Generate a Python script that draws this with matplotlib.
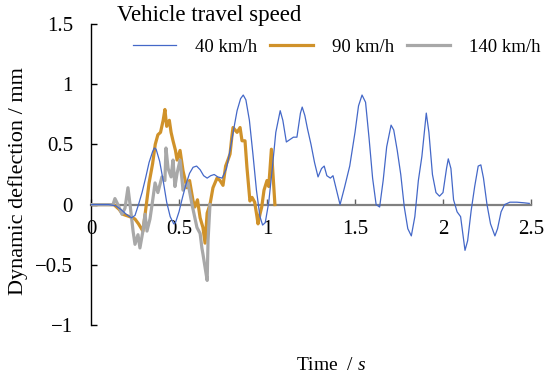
import matplotlib
matplotlib.use("Agg")
import matplotlib.pyplot as plt
import numpy as np

plt.rcParams['font.family'] = ['Liberation Serif', 'DejaVu Serif']
plt.rcParams['mathtext.fontset'] = 'custom'
plt.rcParams['mathtext.rm'] = 'Liberation Serif'
plt.rcParams['mathtext.it'] = 'Liberation Serif:italic'

# 40 km/h
t40 = [0, 0.10, 0.14, 0.17, 0.20, 0.23, 0.25, 0.27, 0.29, 0.31, 0.33, 0.35, 0.36, 0.37,
       0.39, 0.41, 0.43, 0.45, 0.47, 0.48, 0.50, 0.52, 0.54, 0.56, 0.58, 0.60, 0.62,
       0.64, 0.66, 0.68, 0.70, 0.72, 0.745, 0.77, 0.79, 0.81, 0.83, 0.85, 0.865, 0.88,
       0.90, 0.92, 0.94, 0.96, 0.975, 0.99, 1.01, 1.03, 1.05, 1.075, 1.09, 1.11, 1.13,
       1.15, 1.17, 1.19, 1.20, 1.215, 1.23, 1.25, 1.27, 1.29, 1.31, 1.325, 1.34, 1.36,
       1.375, 1.39, 1.415, 1.44, 1.47, 1.50, 1.52, 1.54, 1.56, 1.58, 1.60, 1.62, 1.64,
       1.66, 1.68, 1.705, 1.72, 1.74, 1.76, 1.78, 1.80, 1.82, 1.84, 1.86, 1.88, 1.905,
       1.92, 1.94, 1.96, 1.98, 2.0, 2.02, 2.03, 2.045, 2.06, 2.08, 2.10, 2.125, 2.14,
       2.16, 2.18, 2.20, 2.215, 2.23, 2.25, 2.27, 2.295, 2.31, 2.33, 2.35, 2.38, 2.42,
       2.46, 2.49]
y40 = [0, 0, -0.01, -0.04, -0.08, -0.11, -0.09, 0.0, 0.1, 0.22, 0.35, 0.44, 0.47, 0.46,
       0.36, 0.2, 0.02, -0.1, -0.16, -0.15, -0.06, 0.06, 0.17, 0.26, 0.31, 0.32, 0.29,
       0.24, 0.22, 0.24, 0.25, 0.23, 0.22, 0.3, 0.45, 0.62, 0.78, 0.88, 0.91, 0.87,
       0.7, 0.42, 0.12, -0.1, -0.17, -0.15, 0.02, 0.3, 0.6, 0.78, 0.7, 0.52, 0.54,
       0.56, 0.56, 0.76, 0.81, 0.74, 0.63, 0.5, 0.35, 0.23, 0.3, 0.32, 0.24, 0.22,
       0.24, 0.15, 0.0, 0.14, 0.32, 0.6, 0.82, 0.91, 0.85, 0.55, 0.22, 0.0, -0.02,
       0.2, 0.48, 0.66, 0.62, 0.45, 0.25, -0.02, -0.2, -0.26, -0.1, 0.2, 0.4, 0.76,
       0.6, 0.25, 0.1, 0.07, 0.1, 0.3, 0.38, 0.3, 0.04, -0.06, -0.1, -0.38, -0.3,
       -0.05, 0.15, 0.32, 0.33, 0.22, 0.0, -0.16, -0.26, -0.2, -0.06, 0.0, 0.02, 0.02,
       0.015, 0.01]

# 90 km/h
t90 = [0, 0.13, 0.16, 0.18, 0.22, 0.25, 0.27, 0.295, 0.31, 0.33, 0.35, 0.365, 0.38,
       0.395, 0.41, 0.42, 0.43, 0.445, 0.455, 0.466, 0.48, 0.489, 0.506, 0.523, 0.545,
       0.56, 0.58, 0.59, 0.605, 0.62, 0.636, 0.648, 0.66, 0.676, 0.693, 0.716, 0.733,
       0.75, 0.765, 0.778, 0.79, 0.80, 0.807, 0.83, 0.847, 0.858, 0.875, 0.886, 0.903,
       0.915, 0.93, 0.943, 0.949, 0.96, 0.97, 0.983, 1.0, 1.01, 1.025, 1.045]
y90 = [0, 0, -0.04, -0.08, -0.1, -0.12, -0.16, -0.22, -0.05, 0.18, 0.34, 0.5, 0.58,
       0.6, 0.7, 0.79, 0.65, 0.7, 0.6, 0.53, 0.45, 0.37, 0.45, 0.28, 0.14,
       0.2, 0.03, -0.02, 0.04, -0.11, -0.19, -0.32, -0.07, 0.0, 0.14, 0.22, 0.2,
       0.16, 0.32, 0.37, 0.42, 0.56, 0.64, 0.6, 0.64, 0.53, 0.53, 0.31, 0.03,
       0.06, 0.02, -0.1, -0.16, -0.08, -0.02, 0.12, 0.2, 0.15, 0.46, 0.0]

# 140 km/h
t140 = [0, 0.125, 0.136, 0.153, 0.176, 0.193, 0.21, 0.222, 0.239, 0.25, 0.267, 0.278,
        0.295, 0.307, 0.318, 0.335, 0.347, 0.364, 0.38, 0.403, 0.42, 0.426, 0.438,
        0.455, 0.466, 0.477, 0.489, 0.506, 0.523, 0.534, 0.551, 0.574, 0.602, 0.62,
        0.63, 0.636, 0.648, 0.66, 0.665, 0.676]
y140 = [0, 0, 0.05, 0.0, -0.08, -0.03, 0.14, 0.0, -0.22, -0.33, -0.25, -0.36,
        -0.22, -0.08, -0.22, -0.12, 0.0, 0.18, 0.1, 0.23, 0.2, 0.47, 0.3,
        0.23, 0.37, 0.15, 0.26, 0.37, 0.12, 0.15, 0.18, 0.0, -0.19, -0.24,
        -0.36, -0.41, -0.52, -0.63, -0.3, 0.0]

fig = plt.figure(figsize=(5.5, 3.81), dpi=100)
ax = fig.add_axes([91/550, 1-325/381, 440/550, 301/381])

ax.plot(t90, y90, color='#D0922A', lw=2.3, label='90 km/h', zorder=3)
ax.plot(t140, y140, color='#A8A8A8', lw=2.3, label='140 km/h', zorder=4)
ax.plot(t40, y40, color='#4468C8', lw=0.9, label='40 km/h', zorder=5)

ax.set_xlim(0, 2.5)
ax.set_ylim(-1, 1.5)
ax.spines['top'].set_visible(False)
ax.spines['right'].set_visible(False)
ax.spines['bottom'].set_position(('data', 0))
ax.spines['bottom'].set_color('#808080')
ax.spines['bottom'].set_linewidth(1.6)
ax.spines['bottom'].set_zorder(2)
ax.spines['left'].set_linewidth(1.0)

ax.set_xticks([0, 0.5, 1, 1.5, 2, 2.5])
ax.set_xticklabels(['0', '0.5', '1', '1.5', '2', '2.5'])
ax.set_yticks([-1, -0.5, 0, 0.5, 1, 1.5])
ax.set_yticklabels(['\u22121', '\u22120.5', '0', '0.5', '1', '1.5'])
ax.tick_params(axis='x', direction='in', length=4, width=1, color='#606060',
               labelsize=15, pad=11)
ax.tick_params(axis='y', direction='in', length=4, width=1, labelsize=15, pad=13)

fig.text(18/550, 1-181/381, 'Dynamic deflection / mm', rotation=90,
         ha='center', va='center', fontsize=16)
fig.text(331/550, 1-365/381, 'Time  / $\\it{s}$', ha='center', va='center',
         fontsize=14)

# legend title drawn as plain text, entries as a legend row
fig.text(117/550, 1-16/381, 'Vehicle travel speed', ha='left', va='center',
         fontsize=16.5)
h, l = ax.get_legend_handles_labels()
order = [2, 0, 1]
leg = ax.legend([h[i] for i in order], [l[i] for i in order], ncol=3,
                fontsize=13.5, frameon=False, loc='center left',
                bbox_to_anchor=(133/550, 1-47/381), bbox_transform=fig.transFigure,
                handlelength=2.3, handletextpad=1.0, columnspacing=0.7,
                borderpad=0, borderaxespad=0)

fig.savefig('out.png', dpi=100)
